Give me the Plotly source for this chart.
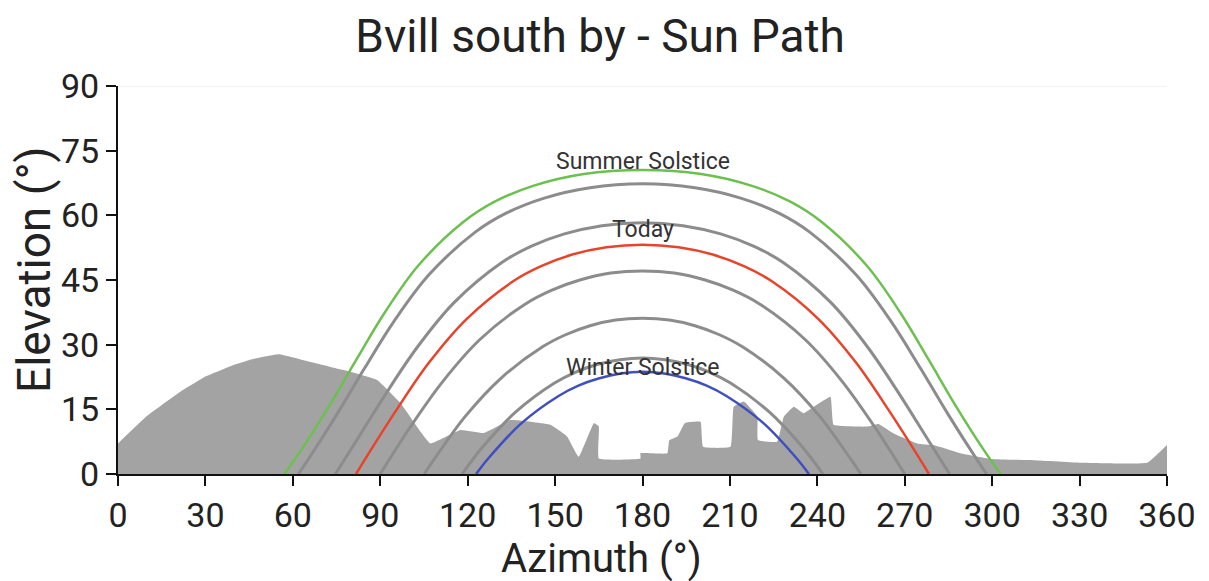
import plotly.graph_objects as go

# Horizon profile (azimuth, elevation)
horizon_az = [0, 10.0, 21.4, 30.0, 39.7, 47.0, 55.2, 66.1, 77.4, 88.9, 97.0, 107.2, 117.5, 125.5, 134.7, 148.4, 154.1,
              158.1, 163.3, 165.0, 165.0, 179.3, 179.3, 188.5, 189.2, 192.0, 194.5, 199.9, 200.8,
              210.2, 211.3, 214.8, 219.4, 219.6, 226.2, 228.5, 231.9, 235.3, 238.8, 244.5, 245.6,
              257.1, 261.0, 266.2, 274.3, 279.9, 289.1, 299.4, 314.2, 331.3, 353.2, 360]
horizon_el = [7.1, 13.5, 19.1, 22.6, 25.3, 26.8, 27.8, 26.0, 24.1, 21.8, 16.4, 7.1, 10.2, 9.5, 12.5, 11.4, 8.7,
              4.0, 11.8, 11.0, 3.6, 3.6, 4.8, 4.8, 7.8, 8.7, 11.8, 12.1, 6.3,
              6.3, 15.6, 16.8, 13.3, 7.9, 7.5, 13.3, 15.6, 14.1, 15.6, 17.9, 11.4,
              11.0, 11.6, 9.4, 7.1, 6.7, 4.8, 3.5, 3.2, 2.6, 2.6, 6.7]

# Sun paths
summer_az = [57.1, 62.9, 72.4, 81.7, 91.5, 103.0, 118.6, 129.1, 142.7, 159.9, 180.0, 200.1, 217.3,
             230.9, 241.4, 257.0, 268.5, 278.3, 287.6, 297.1, 302.9]
summer_el = [0, 5.6, 15.7, 26.4, 37.4, 48.3, 58.5, 63.1, 66.9, 69.6, 70.5, 69.6, 66.9, 63.1, 58.5,
             48.3, 37.4, 26.4, 15.7, 5.6, 0]

may_az = [61.9, 65.2, 74.9, 84.5, 94.7, 106.7, 122.6, 133.2, 146.3, 162.0, 180, 198.0, 213.7, 226.8,
          237.4, 253.3, 265.3, 275.5, 285.1, 294.8, 298.1]
may_el = [0, 3.3, 13.6, 24.4, 35.4, 46.2, 56.1, 60.5, 64.0, 66.4, 67.3, 66.4, 64.0, 60.5, 56.1, 46.2,
          35.4, 24.4, 13.6, 3.3, 0]

apr_az = [74.6, 81.7, 91.9, 102.7, 115.4, 131.6, 141.7, 153.2, 166.1, 180, 193.9, 206.8, 218.3, 228.4,
          244.6, 257.3, 268.1, 278.3, 285.4]
apr_el = [0, 7.6, 18.6, 29.4, 39.8, 49.0, 52.8, 55.7, 57.6, 58.3, 57.6, 55.7, 52.8, 49.0, 39.8, 29.4,
          18.6, 7.6, 0]

today_az = [81.7, 85.5, 95.8, 106.8, 119.7, 135.6, 145.2, 155.9, 167.6, 180, 192.4, 204.1, 214.8,
            224.4, 240.3, 253.2, 264.2, 274.5, 278.3]
today_el = [0, 4.2, 15.1, 25.9, 36.0, 44.7, 48.2, 50.9, 52.6, 53.2, 52.6, 50.9, 48.2, 44.7, 36.0,
            25.9, 15.1, 4.2, 0]

mar_az = [90, 100.3, 111.5, 124.2, 139.7, 148.7, 158.5, 169.1, 180, 190.9, 201.5, 211.3, 220.3, 235.8,
          248.5, 259.7, 270]
mar_el = [0, 10.9, 21.5, 31.2, 39.4, 42.6, 45.0, 46.6, 47.1, 46.6, 45.0, 42.6, 39.4, 31.2, 21.5, 10.9, 0]

feb_az = [105.1, 108.3, 119.1, 131.4, 145.7, 153.6, 162.0, 170.8, 180, 189.2, 198.0, 206.4, 214.3,
          228.6, 240.9, 251.7, 254.9]
feb_el = [0, 3.2, 13.3, 22.2, 29.5, 32.3, 34.4, 35.7, 36.1, 35.7, 34.4, 32.3, 29.5, 22.2, 13.3, 3.2, 0]

jan_az = [118.1, 125.2, 136.7, 149.8, 156.9, 164.4, 172.2, 180, 187.8, 195.6, 203.1, 210.2, 223.3,
          234.8, 241.9]
jan_el = [0, 6.3, 14.5, 21.1, 23.6, 25.4, 26.5, 26.9, 26.5, 25.4, 23.6, 21.1, 14.5, 6.3, 0]

winter_az = [122.9, 127.2, 138.5, 151.2, 158.0, 165.2, 172.5, 180, 187.5, 194.8, 202.0, 208.8, 221.5,
             232.8, 237.1]
winter_el = [0, 3.7, 11.8, 18.1, 20.5, 22.2, 23.3, 23.7, 23.3, 22.2, 20.5, 18.1, 11.8, 3.7, 0]

x_ticks = list(range(0, 361, 30))
y_ticks = list(range(0, 91, 15))

FONT = "Roboto"
TXT = "#222222"

fig = go.Figure()
fig.add_trace(go.Scatter(x=horizon_az, y=horizon_el, mode="lines", fill="tozeroy",
                         fillcolor="#a3a3a3", line=dict(width=0, color="#a3a3a3", shape="spline", smoothing=0.3),
                         hoverinfo="skip"))

gray = "#8c8c8c"
for az, el in [(may_az, may_el), (apr_az, apr_el), (mar_az, mar_el),
               (feb_az, feb_el), (jan_az, jan_el)]:
    fig.add_trace(go.Scatter(x=az, y=el, mode="lines", line=dict(color=gray, width=3, shape="spline")))

fig.add_trace(go.Scatter(x=summer_az, y=summer_el, mode="lines",
                         line=dict(color="#6cc04f", width=2.5, shape="spline")))
fig.add_trace(go.Scatter(x=today_az, y=today_el, mode="lines",
                         line=dict(color="#e8432b", width=2.5, shape="spline")))
fig.add_trace(go.Scatter(x=winter_az, y=winter_el, mode="lines",
                         line=dict(color="#3f4fbf", width=2.5, shape="spline")))

labels = [("Summer Solstice", 180, 72.6), ("Today", 180, 56.6), ("Winter Solstice", 180, 24.6)]
for text, x, y in labels:
    fig.add_annotation(x=x, y=y, text=text, showarrow=False,
                       font=dict(family=FONT, size=23, color="#333333"))

# top light line at 90
fig.add_shape(type="line", xref="x", yref="y", x0=0, x1=360, y0=90, y1=90,
              line=dict(color="#e6e6e6", width=1), layer="below")

fig.add_annotation(xref="paper", yref="paper", x=0.461, y=-0.2165, yanchor="middle",
                   text="Azimuth (°)", showarrow=False,
                   font=dict(family=FONT, size=40, color=TXT))
fig.add_annotation(xref="paper", yref="paper", x=-0.08, y=0.526, xanchor="center", yanchor="middle",
                   text="Elevation (°)", showarrow=False, textangle=-90,
                   font=dict(family=FONT, size=46, color=TXT))

axis_common = dict(showgrid=False, zeroline=False, showline=True, linecolor="#111111", linewidth=2,
                   ticks="outside", ticklen=10, tickwidth=2, tickcolor="#111111", automargin=False,
                   tickfont=dict(family=FONT, size=34, color=TXT))

fig.update_layout(
    width=1201, height=573,
    margin=dict(l=110, r=42, t=78, b=107),
    paper_bgcolor="white", plot_bgcolor="white",
    showlegend=False,
    title=dict(text="Bvill south by - Sun Path", x=0.493, xref="container", xanchor="center",
               y=0.951, yref="container", yanchor="middle",
               font=dict(family=FONT, size=46, color=TXT)),
    xaxis=dict(range=[0, 360], tickvals=x_ticks, **axis_common),
    yaxis=dict(range=[0, 90], tickvals=y_ticks, **axis_common),
)

fig.write_html("out.html")
